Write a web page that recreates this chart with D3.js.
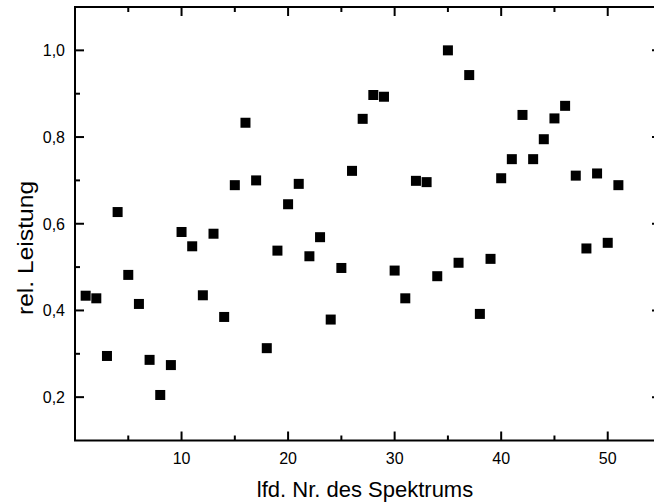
<!DOCTYPE html>
<html><head><meta charset="utf-8">
<script src="https://cdn.jsdelivr.net/npm/d3@7"></script>
<style>html,body{margin:0;padding:0;background:#fff;}svg{display:block;}</style>
</head><body>
<script>
const spectrumNr = d3.range(1, 52);
const relLeistung = [0.434,0.428,0.295,0.627,0.482,0.415,0.286,0.205,0.274,0.581,
  0.548,0.435,0.577,0.385,0.689,0.833,0.700,0.313,0.538,0.645,
  0.692,0.525,0.569,0.379,0.498,0.722,0.842,0.897,0.893,0.492,
  0.428,0.699,0.696,0.479,1.000,0.510,0.943,0.392,0.519,0.705,
  0.749,0.851,0.749,0.795,0.843,0.872,0.711,0.543,0.716,0.556,0.689];
const xMajorTicks = [10,20,30,40,50];
const xMinorTicks = [5,15,25,35,45];
const yMajorTicks = [0.2,0.4,0.6,0.8,1.0];
const yMinorTicks = [0.3,0.5,0.7,0.9];
const xTitle = "lfd. Nr. des Spektrums";
const yTitle = "rel. Leistung";

const W = 654, H = 502;
const svg = d3.select("body").append("svg").attr("width", W).attr("height", H);
const x = d3.scaleLinear().domain([0,55]).range([75,661]);
const y = d3.scaleLinear().domain([0.1,1.1]).range([440.5,7]);
const font = "'Liberation Sans', Arial, sans-serif";
const fmt = d => d3.format(".1f")(d).replace(".", ",");
const x0 = x(0), x1 = x(55), y0 = y(0.1), y1 = y(1.1);

const g = svg.append("g");
// frame
g.append("rect").attr("x", x0).attr("y", y1).attr("width", x1-x0).attr("height", y0-y1)
  .attr("fill","none").attr("stroke","#000").attr("stroke-width",2);

const ticks = g.append("g");
function xTicks(vals, len) {
  ticks.append("g").selectAll("line").data(vals).join("line")
    .attr("x1", d => x(d)).attr("x2", d => x(d)).attr("y1", y0).attr("y2", y0 - len)
    .style("stroke","#000").style("stroke-width","2px");
  ticks.append("g").selectAll("line").data(vals).join("line")
    .attr("x1", d => x(d)).attr("x2", d => x(d)).attr("y1", y1).attr("y2", y1 + len)
    .style("stroke","#000").style("stroke-width","2px");
}
function yTicks(vals, len) {
  ticks.append("g").selectAll("line").data(vals).join("line")
    .attr("y1", d => y(d)).attr("y2", d => y(d)).attr("x1", x0).attr("x2", x0 + len)
    .style("stroke","#000").style("stroke-width","2px");
  ticks.append("g").selectAll("line").data(vals).join("line")
    .attr("y1", d => y(d)).attr("y2", d => y(d)).attr("x1", x1).attr("x2", x1 - len)
    .style("stroke","#000").style("stroke-width","2px");
}
xTicks(xMajorTicks, 9); xTicks(xMinorTicks, 5);
yTicks(yMajorTicks, 9); yTicks(yMinorTicks, 5);

// tick labels
g.append("g").selectAll("text").data(xMajorTicks).join("text")
  .attr("x", d => x(d)).attr("y", 463.5).attr("text-anchor","middle")
  .attr("font-family",font).attr("font-size",16).attr("fill","#000").text(d3.format("d"));
g.append("g").selectAll("text").data(yMajorTicks).join("text")
  .attr("x", 65).attr("y", d => y(d)).attr("dy","0.36em").attr("text-anchor","end")
  .attr("font-family",font).attr("font-size",16).attr("fill","#000").text(fmt);

// points
const s = 10;
g.append("g").selectAll("rect").data(spectrumNr).join("rect")
  .attr("x", d => x(d) - s/2).attr("y", (d,i) => y(relLeistung[i]) - s/2)
  .attr("width", s).attr("height", s).attr("fill","#000");

// titles
svg.append("text").attr("x", 365).attr("y", 497).attr("text-anchor","middle")
  .attr("font-family",font).attr("font-size",22).attr("fill","#000").text(xTitle);
svg.append("text").attr("transform","translate(33,248) rotate(-90) scale(1.12,1)").attr("text-anchor","middle")
  .attr("font-family",font).attr("font-size",22).attr("fill","#000").text(yTitle);
</script>
</body></html>
